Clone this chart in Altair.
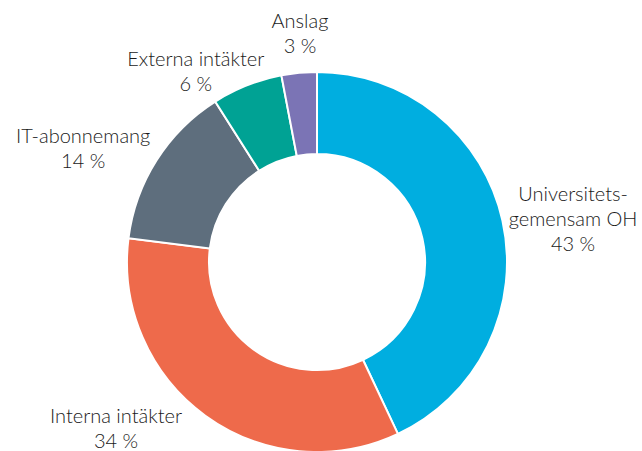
import altair as alt
import pandas as pd

categories = ["Universitets-\ngemensam OH", "Interna intäkter", "IT-abonnemang", "Externa intäkter", "Anslag"]
shares = [43, 34, 14, 6, 3]
colors = ["#00AEE0", "#EE6A4B", "#5E6E7D", "#00A294", "#7B74B5"]

df = pd.DataFrame({
    "kategori": categories,
    "andel": shares,
    "ordning": list(range(len(categories))),
})
df["etikett"] = df["kategori"] + "\n" + df["andel"].astype(str) + " %"

cx, cy = 317, 262

base = alt.Chart(df).encode(
    theta=alt.Theta("andel:Q", stack=True),
    order=alt.Order("ordning:Q"),
    x=alt.value(cx),
    y=alt.value(cy),
)

arcs = base.mark_arc(outerRadius=190, innerRadius=108, stroke="white", strokeWidth=2).encode(
    color=alt.Color("kategori:N", scale=alt.Scale(domain=categories, range=colors), legend=None)
)

# label nudges (layout only) relative to the mid-angle anchor
nudges = {
    "Universitets-\ngemensam OH": (17, -14),
    "Interna intäkter": (-57, -43),
    "IT-abonnemang": (-27, 6),
    "Externa intäkter": (-31, 26),
    "Anslag": (6, 4),
}

label_layers = []
for cat in categories:
    ddx, ddy = nudges[cat]
    label_layers.append(
        base.mark_text(
            radius=245, fontSize=20, font="Lato", fontWeight=300, color="#1a1a1a",
            lineBreak="\n", align="center", baseline="middle", lineHeight=25,
            dx=ddx, dy=ddy,
        ).encode(
            text="etikett:N",
            opacity=alt.condition(alt.datum.kategori == cat, alt.value(1), alt.value(0)),
        )
    )

chart = alt.layer(arcs, *label_layers).properties(
    width=642, height=451,
    autosize=alt.AutoSizeParams(type="none"),
    padding=0,
).configure_view(stroke=None)

chart.save("out.html", embed_options={"renderer": "svg", "actions": False})
